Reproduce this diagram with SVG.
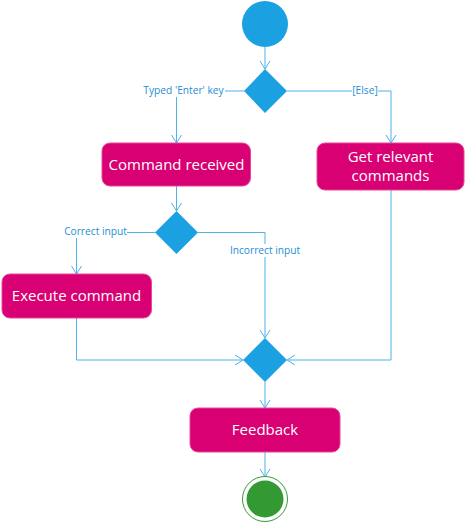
<svg xmlns="http://www.w3.org/2000/svg" width="468" height="524" viewBox="0 0 468 524">
<style>
.act{fill:#d80073;stroke:#e7479a;stroke-width:1}
.dec{fill:#1ba1e2}
.nt{font-family:"Open Sans","Noto Sans",sans-serif;font-size:15px;fill:#ffffff;text-anchor:middle}
.lbl{font-family:"Open Sans","Noto Sans",sans-serif;font-size:10.2px;fill:#1e8ed4;text-anchor:middle}
.edge{fill:none;stroke:#4db3e8;stroke-width:1}
.lblbg{fill:#ffffff}
</style>
<defs>
<marker id="arr" markerWidth="12" markerHeight="12" refX="10" refY="6" orient="auto" markerUnits="userSpaceOnUse">
<path d="M2,1 L10,6 L2,11" fill="none" stroke="#4db3e8" stroke-width="1"/>
</marker>
</defs>
<rect width="468" height="524" fill="#ffffff"/>
<g id="connectors">
<path class="edge" d="M265,47 L265,69" marker-end="url(#arr)"/>
<path class="edge" d="M244,91 L176.5,91 L176.5,143" marker-end="url(#arr)"/>
<path class="edge" d="M287,91 L391,91 L391,143" marker-end="url(#arr)"/>
<path class="edge" d="M176.5,186 L176.5,211" marker-end="url(#arr)"/>
<path class="edge" d="M155,232.5 L76.5,232.5 L76.5,274" marker-end="url(#arr)"/>
<path class="edge" d="M198,232.5 L265,232.5 L265,338" marker-end="url(#arr)"/>
<path class="edge" d="M76.5,318 L76.5,360 L243,360" marker-end="url(#arr)"/>
<path class="edge" d="M391,190 L391,360 L287,360" marker-end="url(#arr)"/>
<path class="edge" d="M265,382 L265,408" marker-end="url(#arr)"/>
<path class="edge" d="M265,452 L265,477" marker-end="url(#arr)"/>
<rect class="lblbg" x="142" y="84" width="83" height="13"/>
<text class="lbl" x="183.5" y="94">Typed 'Enter' key</text>
<rect class="lblbg" x="352" y="84" width="26" height="13"/>
<text class="lbl" x="365" y="94">[Else]</text>
<rect class="lblbg" x="64" y="225" width="63" height="13"/>
<text class="lbl" x="95.5" y="235">Correct input</text>
<rect class="lblbg" x="231" y="244" width="68" height="13"/>
<text class="lbl" x="265" y="254">Incorrect input</text>
</g>
<g id="start"><circle cx="265" cy="24" r="23" fill="#1ba1e2"/></g>
<g id="decision1"><polygon class="dec" points="265,69 287,91 265,113 244,91"/></g>
<g id="command-received"><rect class="act" x="102" y="143" width="148.5" height="43" rx="8"/><text class="nt" x="176.5" y="169.5">Command received</text></g>
<g id="get-relevant-commands"><rect class="act" x="317" y="143" width="147" height="47" rx="8"/><text class="nt" x="390.5" y="162">Get relevant</text><text class="nt" x="390.5" y="181">commands</text></g>
<g id="decision2"><polygon class="dec" points="176.5,211 198,232.5 176.5,254 155,232.5"/></g>
<g id="execute-command"><rect class="act" x="2" y="274" width="149.5" height="44" rx="8"/><text class="nt" x="76.5" y="301">Execute command</text></g>
<g id="merge"><polygon class="dec" points="265,338 287,360 265,382 243,360"/></g>
<g id="feedback"><rect class="act" x="190" y="408" width="150" height="44" rx="8"/><text class="nt" x="265" y="435">Feedback</text></g>
<g id="end"><circle cx="265" cy="499" r="22.5" fill="#ffffff" stroke="#339933" stroke-width="1"/><circle cx="265" cy="499" r="18.5" fill="#339933"/></g>
</svg>
